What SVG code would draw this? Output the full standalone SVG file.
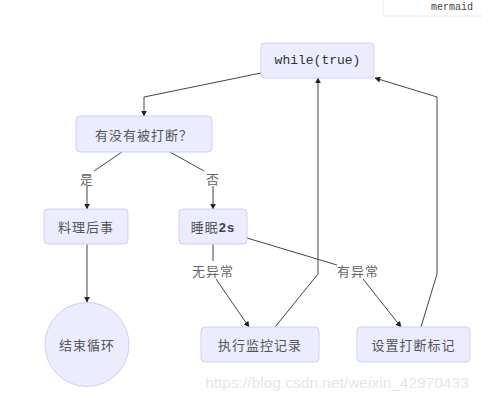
<svg xmlns="http://www.w3.org/2000/svg" width="482" height="403" viewBox="0 0 482 403">
<style>
.node{fill:#ECECFF;stroke:#CFCFF2;stroke-width:1}
.t{font-family:"Noto Sans CJK SC","Liberation Sans",sans-serif;font-size:13px;fill:#555;text-anchor:middle;dominant-baseline:central;letter-spacing:1px}
.mono{font-family:"Liberation Mono","DejaVu Sans Mono",monospace;font-size:13px;fill:#333;text-anchor:middle;dominant-baseline:central}
.e{fill:none;stroke:#444;stroke-width:1}
.lbl{font-family:"Noto Sans CJK SC","Liberation Sans",sans-serif;font-size:13px;fill:#666;text-anchor:middle;dominant-baseline:central;letter-spacing:1px}
</style>
<defs>
<marker id="arr" viewBox="0 0 10 10" refX="9" refY="5" markerWidth="6" markerHeight="6" orient="auto">
<path d="M0,0 L10,5 L0,10 z" fill="#222"/>
</marker>
</defs>
<rect width="482" height="403" fill="#fff"/>
<g id="mermaid-tag">
<rect x="383" y="-1" width="100" height="17" fill="#fff" stroke="#eee"/>
<text x="452" y="7" font-family="Liberation Mono,monospace" font-size="10" fill="#444" text-anchor="middle" dominant-baseline="central">mermaid</text>
</g>
<g id="connectors">
<polyline class="e" points="261,73 144,97 144,116" marker-end="url(#arr)"/>
<polyline class="e" points="122,152 94,171"/>
<line class="e" x1="87" y1="186" x2="87" y2="209" marker-end="url(#arr)"/>
<polyline class="e" points="170,152 204,171"/>
<line class="e" x1="213" y1="186" x2="213" y2="209" marker-end="url(#arr)"/>
<line class="e" x1="87" y1="244" x2="87" y2="302" marker-end="url(#arr)"/>
<line class="e" x1="213" y1="244" x2="213" y2="261"/>
<line class="e" x1="216" y1="279" x2="249" y2="327" marker-end="url(#arr)"/>
<line class="e" x1="247" y1="238" x2="337" y2="265"/>
<line class="e" x1="363" y1="279" x2="401" y2="327" marker-end="url(#arr)"/>
<polyline class="e" points="275,327 318,274 318,78" marker-end="url(#arr)"/>
<polyline class="e" points="421,327 437,274 437,97 375,78" marker-end="url(#arr)"/>
</g>
<g id="edge-labels">
<text class="lbl" x="87" y="178">是</text>
<text class="lbl" x="213" y="178">否</text>
<text class="lbl" x="213" y="270">无异常</text>
<text class="lbl" x="358" y="270">有异常</text>
</g>
<g id="while">
<rect class="node" x="261" y="43" width="113" height="35" rx="4"/>
<text class="mono" x="317.5" y="60.5">while(true)</text>
</g>
<g id="check">
<rect class="node" x="76" y="116" width="136" height="36" rx="4"/>
<text class="t" x="144" y="134">有没有被打断？</text>
</g>
<g id="cleanup">
<rect class="node" x="44" y="209" width="84" height="35" rx="4"/>
<text class="t" x="86" y="226.5">料理后事</text>
</g>
<g id="sleep">
<rect class="node" x="179" y="209" width="68" height="35" rx="4"/>
<text class="t" x="213" y="226.5">睡眠<tspan font-family="Liberation Sans,sans-serif" font-weight="bold" fill="#444">2s</tspan></text>
</g>
<g id="end">
<circle class="node" cx="87" cy="344.5" r="42"/>
<text class="t" x="87" y="344.5">结束循环</text>
</g>
<g id="monitor">
<rect class="node" x="201" y="327" width="118" height="35" rx="4"/>
<text class="t" x="260" y="344.5">执行监控记录</text>
</g>
<g id="setflag">
<rect class="node" x="357" y="327" width="113" height="35" rx="4"/>
<text class="t" x="413.5" y="344.5">设置打断标记</text>
</g>
<text x="337" y="388" font-family="Liberation Sans,Arial,sans-serif" font-size="15.5" fill="#e6e6ea" text-anchor="middle">https://blog.csdn.net/weixin_42970433</text>
</svg>
